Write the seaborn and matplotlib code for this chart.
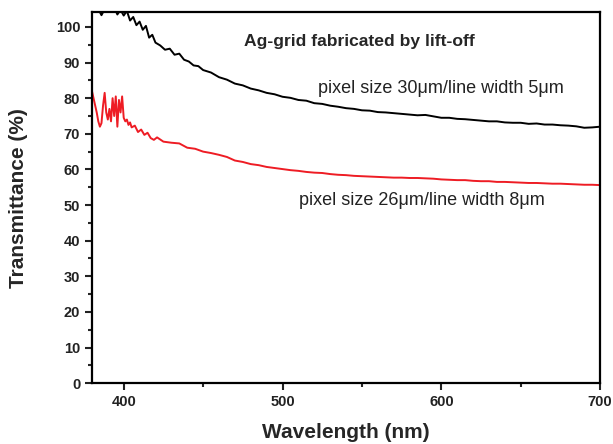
import seaborn as sns
import matplotlib.pyplot as plt
from matplotlib.ticker import MultipleLocator

# pixel size 30um / line width 5um (black)
wl_black = [380, 382, 384, 386, 388, 390, 392, 394, 396, 398, 400, 402, 404, 406, 408,
            410, 412, 414, 416, 418, 420, 423, 426, 429, 432, 435, 438, 441, 444, 447,
            450, 455, 460, 465, 470, 475, 480, 485, 490, 495, 500, 505, 510, 515, 520,
            525, 530, 535, 540, 545, 550, 555, 560, 565, 570, 575, 580, 585, 590, 595,
            600, 605, 610, 615, 620, 625, 630, 635, 640, 645, 650, 655, 660, 665, 670,
            675, 680, 685, 690, 695, 700]
t_black = [108, 107, 105, 103.3, 105, 106, 104.5, 105.5, 103.5, 104.8, 103.2, 104.5, 101.8,
           102.8, 100.5, 101.5, 99.2, 100.3, 97, 97.8, 95.6, 94.8, 93.6, 93.9, 92.2, 92.5,
           90.8, 90.3, 89.2, 89.0, 87.9, 87.2, 85.9, 85.2, 84.1, 83.6, 82.7, 82.2, 81.5,
           81.1, 80.4, 80.1, 79.5, 79.3, 78.6, 78.4, 77.9, 77.6, 77.2, 77.0, 76.6, 76.5,
           76.1, 76.0, 75.8, 75.6, 75.4, 75.2, 75.3, 74.9, 74.5, 74.5, 74.2, 74.1, 73.9,
           73.7, 73.5, 73.5, 73.2, 73.1, 73.1, 72.8, 72.9, 72.6, 72.6, 72.4, 72.3, 72.1,
           71.7, 71.8, 72.0]

# pixel size 26um / line width 8um (red)
wl_red = [380, 381, 382, 383, 384, 385, 386, 387, 388, 389, 390, 391, 392, 393, 394, 395,
          396, 397, 398, 399, 400, 401, 402, 403, 404, 405, 407, 409, 411, 413, 415, 417,
          419, 421, 425, 430, 435, 440, 445, 450, 455, 460, 465, 470, 475, 480, 485, 490,
          495, 500, 505, 510, 515, 520, 525, 530, 535, 540, 545, 550, 555, 560, 565, 570,
          575, 580, 585, 590, 595, 600, 605, 610, 615, 620, 625, 630, 635, 640, 645, 650,
          655, 660, 665, 670, 675, 680, 685, 690, 695, 700]
t_red = [82, 80, 78, 76, 73.5, 72, 73, 78, 81.5, 76, 74, 77, 73.5, 80, 75, 80.5, 72, 79.5,
         76, 80.5, 74.5, 73.5, 74, 72.5, 73.2, 71.8, 72.3, 70.5, 71.2, 69.7, 70.3, 68.8,
         68.3, 69, 67.8, 67.5, 67.3, 66.1, 65.8, 65.0, 64.6, 64.1, 63.5, 62.5, 62.1, 61.5,
         61.2, 60.7, 60.4, 60.1, 59.8, 59.6, 59.3, 59.1, 59, 58.7, 58.5, 58.4, 58.2, 58.1,
         58, 57.9, 57.8, 57.7, 57.7, 57.6, 57.6, 57.5, 57.4, 57.2, 57.1, 57.0, 57.0, 56.8,
         56.7, 56.7, 56.5, 56.5, 56.4, 56.3, 56.2, 56.2, 56.1, 56.0, 56.0, 55.9, 55.8, 55.7,
         55.7, 55.6]

sns.set_style('ticks')
plt.rcParams['font.family'] = ['Liberation Sans', 'DejaVu Sans']

fig = plt.figure(figsize=(6.13, 4.44), dpi=100)
ax = fig.add_axes([0.150, 0.137, 0.829, 0.836])

sns.lineplot(x=wl_black, y=t_black, color='black', linewidth=1.4, sort=False,
             estimator=None, ax=ax)
sns.lineplot(x=wl_red, y=t_red, color='#ee1c24', linewidth=1.4, sort=False,
             estimator=None, ax=ax)

ax.set_xlim(380, 700)
ax.set_ylim(0, 104.2)
ax.xaxis.set_major_locator(MultipleLocator(100))
ax.xaxis.set_minor_locator(MultipleLocator(50))
ax.yaxis.set_major_locator(MultipleLocator(10))
ax.yaxis.set_minor_locator(MultipleLocator(5))
ax.tick_params(which='major', direction='out', length=5, width=1.5, labelsize=10.5,
               colors='#222222', top=False, right=False)
ax.tick_params(which='minor', direction='out', length=3, width=1.5, top=False, right=False)
for lab in ax.get_xticklabels() + ax.get_yticklabels():
    lab.set_fontweight('bold')
for sp in ax.spines.values():
    sp.set_linewidth(1.6)
    sp.set_color('black')

ax.set_xlabel('Wavelength (nm)', fontsize=15, fontweight='bold', labelpad=10)
ax.set_ylabel('Transmittance (%)', fontsize=15, fontweight='bold', labelpad=20)

ax.text(548.5, 95.8, 'Ag-grid fabricated by lift-off', fontsize=12.6, fontweight='bold',
        ha='center', va='center')
ax.text(600, 82.6, 'pixel size 30μm/line width 5μm', fontsize=13,
        ha='center', va='center', color='#222222')
ax.text(587.5, 51.4, 'pixel size 26μm/line width 8μm', fontsize=13,
        ha='center', va='center', color='#222222')

fig.savefig('out.png', dpi=100)
